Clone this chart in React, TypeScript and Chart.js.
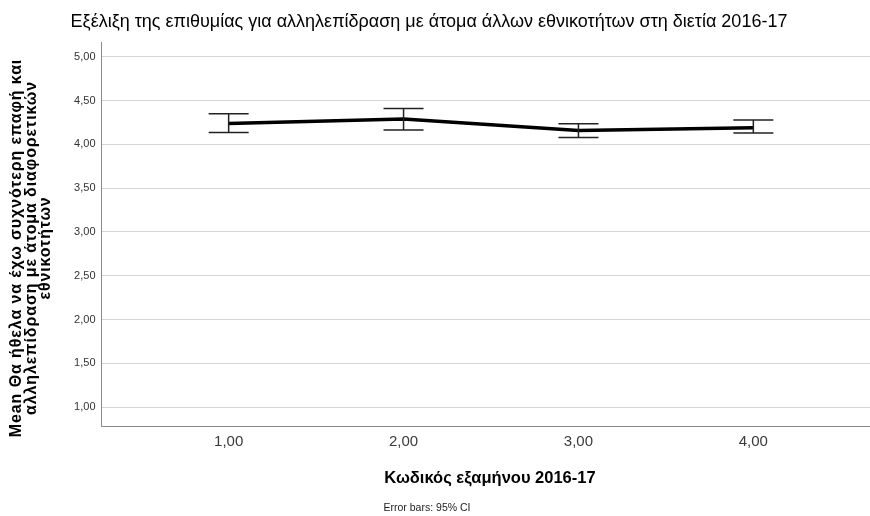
import React, { useEffect, useRef } from "react";
import { Chart, registerables } from "chart.js";

Chart.register(...registerables);

const semesters = [1, 2, 3, 4];
const xTickLabels = ["1,00", "2,00", "3,00", "4,00"];
const means = [4.24, 4.29, 4.16, 4.19];
const ciLower = [4.135, 4.165, 4.08, 4.13];
const ciUpper = [4.35, 4.41, 4.235, 4.28];
const yTicks = [1, 1.5, 2, 2.5, 3, 3.5, 4, 4.5, 5];
const yTickLabels = ["1,00", "1,50", "2,00", "2,50", "3,00", "3,50", "4,00", "4,50", "5,00"];

const chartTitle =
  "Εξέλιξη της επιθυμίας για αλληλεπίδραση με άτομα άλλων εθνικοτήτων στη διετία 2016-17";
const yTitleLines = [
  "Mean Θα ήθελα να έχω συχνότερη επαφή και",
  "αλληλεπίδραση με άτομα διαφορετικών",
  "εθνικοτήτων",
];
const xTitle = "Κωδικός εξαμήνου 2016-17";
const footnote = "Error bars: 95% CI";

const FONT = "'Liberation Sans', Arial, sans-serif";

const errorBarPlugin = {
  id: "errorBars",
  afterDatasetsDraw(chart: any) {
    const xs = chart.scales.x;
    const ys = chart.scales.y;
    const ctx = chart.ctx;
    ctx.save();
    ctx.strokeStyle = "#222";
    ctx.lineWidth = 1.5;
    const half = 20;
    semesters.forEach((s, i) => {
      const px = xs.getPixelForValue(s);
      const pl = ys.getPixelForValue(ciLower[i]);
      const pu = ys.getPixelForValue(ciUpper[i]);
      ctx.beginPath();
      ctx.moveTo(px, pl);
      ctx.lineTo(px, pu);
      ctx.moveTo(px - half, pl);
      ctx.lineTo(px + half, pl);
      ctx.moveTo(px - half, pu);
      ctx.lineTo(px + half, pu);
      ctx.stroke();
    });
    ctx.restore();
  },
};

const textPlugin = {
  id: "texts",
  afterDraw(chart: any) {
    const ctx = chart.ctx;
    ctx.save();
    ctx.fillStyle = "#000";
    ctx.textAlign = "center";
    ctx.textBaseline = "middle";
    ctx.font = `18px ${FONT}`;
    ctx.fillText(chartTitle, 429, 22);

    ctx.font = `bold 16.5px ${FONT}`;
    ctx.fillText(xTitle, 490, 478);

    ctx.font = `10.5px ${FONT}`;
    ctx.fillStyle = "#222";
    ctx.fillText(footnote, 427, 508);

    ctx.fillStyle = "#000";
    ctx.font = `bold 16px ${FONT}`;
    try {
      (ctx as any).letterSpacing = "0.9px";
    } catch (e) {}
    const cy = 248;
    const xs = [17, 31.5, 46];
    yTitleLines.forEach((line, i) => {
      ctx.save();
      ctx.translate(xs[i], cy);
      ctx.rotate(-Math.PI / 2);
      ctx.fillText(line, 0, 0);
      ctx.restore();
    });
    try {
      (ctx as any).letterSpacing = "0px";
    } catch (e) {}
    ctx.restore();
  },
};

export default function App() {
  const ref = useRef<HTMLCanvasElement | null>(null);

  useEffect(() => {
    if (!ref.current) return;
    const chart = new Chart(ref.current, {
      type: "line",
      data: {
        datasets: [
          {
            data: semesters.map((s, i) => ({ x: s, y: means[i] })),
            borderColor: "#000",
            borderWidth: 3.5,
            pointRadius: 0,
            tension: 0,
            fill: false,
          },
        ],
      },
      options: {
        animation: false,
        responsive: false,
        devicePixelRatio: 1,
        layout: { padding: { top: 42, left: 0, right: 0, bottom: 0 } },
        plugins: {
          legend: { display: false },
          tooltip: { enabled: false },
          title: { display: false },
        },
        scales: {
          x: {
            type: "linear",
            min: 0.273,
            max: 4.667,
            afterBuildTicks: (scale: any) => {
              scale.ticks = semesters.map((v) => ({ value: v }));
            },
            afterFit: (scale: any) => {
              scale.height = 90;
            },
            grid: { display: false, drawTicks: false },
            border: { color: "#8a8a8a", width: 1 },
            ticks: {
              padding: 7,
              color: "#3a3a3a",
              font: { family: FONT, size: 15 },
              maxRotation: 0,
              autoSkip: false,
              callback: (v: any) => {
                const idx = semesters.indexOf(Number(v));
                return idx >= 0 ? xTickLabels[idx] : "";
              },
            },
          },
          y: {
            type: "linear",
            min: 0.783,
            max: 5.17,
            afterBuildTicks: (scale: any) => {
              scale.ticks = yTicks.map((v) => ({ value: v }));
            },
            afterFit: (scale: any) => {
              scale.width = 101.5;
            },
            grid: { color: "#d4d4d4", lineWidth: 1, drawTicks: false },
            border: { color: "#8a8a8a", width: 1 },
            ticks: {
              padding: 6,
              color: "#333",
              font: { family: FONT, size: 11 },
              autoSkip: false,
              callback: (v: any) => {
                const idx = yTicks.indexOf(Number(v));
                return idx >= 0 ? yTickLabels[idx] : "";
              },
            },
          },
        },
      },
      plugins: [errorBarPlugin, textPlugin],
    } as any);
    return () => chart.destroy();
  }, []);

  return (
    <div style={{ position: "fixed", left: 0, top: 0, width: 870, height: 516, background: "#fff" }}>
      <canvas ref={ref} width={870} height={516} style={{ width: 870, height: 516, display: "block" }} />
    </div>
  );
}
